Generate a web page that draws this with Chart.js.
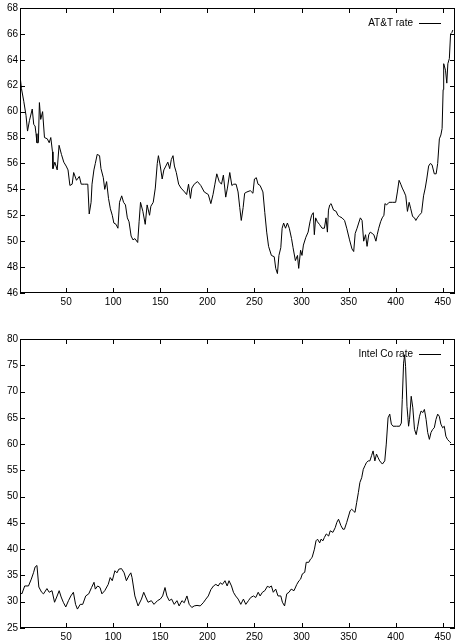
<!DOCTYPE html>
<html>
<head>
<meta charset="utf-8">
<script src="https://cdn.jsdelivr.net/npm/chart.js@4"></script>
<style>
body { margin: 0; background: #fff; }
#top { position: absolute; left: 0; top: 0; }
#bottom { position: absolute; left: 0; top: 320px; }
</style>
</head>
<body>
<canvas id="top" width="457" height="320"></canvas>
<canvas id="bottom" width="457" height="321"></canvas>
<script>
let attX = [1,2.5,5,7.4,9,11,14,15.6,17,18,19,20.5,21.6,23,25,27,30,32,33.7,35.5,36,38,40.5,42.5,45,47.5,50,52,54,56.4,58,61,64,66,69.5,73,74.5,76.5,77.5,79.5,81,83,85.5,87,89.5,91,93,95,97,99,100.7,103,105,106.7,109,111,113,115,116.8,119,121,123,126,127.5,129,131.5,134,136,138.6,140,142.5,144.7,146.8,148,150,152,153.8,155.9,158,160,161.7,163.5,165,167,169.5,172,175.8,178,180,182,183.5,186,189.5,193,196.7,201,203.7,206,208,210,212.6,215,217,219.5,221.3,223.8,226,228,230.5,232.6,234.4,236,238,239.6,242,245.6,248.4,250,252,253.8,256,259,261,263,265,268,271,272.6,274.4,276,278,279.4,281,283,285,287,289.4,291,293.5,295.7,297,299,300.5,302,304.6,307,309,310.7,312.5,313.6,315,316.8,319,321.8,324.3,326,327.5,328.6,330,331.4,334,336.8,338.6,340.4,343,345.7,348,351,353.6,355.4,357,359,360.7,362.5,364.3,366,368,369.6,371.4,373,375,376.8,379,380.4,382,384,385.7,387.5,388.6,390.4,393,396.4,400,401.8,403.6,405.4,407,409,410.7,412.5,414.3,416,418,420,421.4,423,425,427.5,429.6,431.4,433,435,436.8,438.6,441,443,444.6,446.4,448,449.3,450.4,451,452.9,454.3,455.4,457,458.3,459.6,460.7];
let attY = [62.8,61.8,60.8,59.7,58.5,59.3,60.2,59,58.9,58.3,57.6,57.6,60.7,59.4,60,58,57.9,57.6,58,56.9,55.6,56.1,55.5,57.4,56.7,56.1,55.8,55.5,54.3,54.4,55.3,54.7,55,54.4,54.4,54.4,52.1,53,54.4,55.5,56,56.7,56.6,55.6,54.9,54,54.6,53.3,52.5,52,51.4,51.3,51,53,53.5,53,52.8,51.8,51.5,50.4,50.1,50.2,49.9,51.5,53,52.3,51.3,52.8,52,52.7,53,54.1,56,56.6,55.8,54.8,55.5,55.8,56.1,55.6,56.3,56.6,55.8,55.3,54.4,54.1,53.8,53.6,54.4,53.3,54.1,54.4,54.6,54.3,53.8,53.6,52.9,53.6,54.4,55.2,54.6,54.4,55.1,53.4,54.1,55.3,54.3,54.4,54.4,53.8,52.6,51.6,52.6,53.7,53.8,53.9,53.7,54.8,54.9,54.4,54.3,53.8,52.2,50.7,49.6,48.9,48.8,47.9,47.5,48.9,49.5,51,51.4,51,51.4,51,50.2,49.5,48.5,48.9,47.9,49.3,48.9,49.7,50.3,50.7,51.5,52,52.2,50.5,51.8,51.5,51.3,51,51,51.8,50.7,52.4,52.8,52.9,52.4,52.3,52,51.9,51.8,51.6,51,50.1,49.4,49.2,50.6,51,51.4,51.8,51.6,50,50.5,49.6,50.5,50.7,50.6,50.5,50,50.5,51,51.5,51.8,52,52.9,52.8,53,53,53,53.8,54.7,54.4,54.1,53.8,53.5,52.3,53,52.5,51.9,51.8,51.6,51.8,52,52.2,53.5,54.1,54.8,55.8,56,55.9,55.2,55.2,56,57.9,58.2,58.7,61.7,63.7,63.2,62.2,63.7,64.1,66,66.1,66.3];

// Intel Co rate
let intelX = [1,3,6,10,13,15.5,17,19,21,24,26,29.6,32,35,37.7,40,42.6,44.7,47,49.6,52.5,55,57.7,60,62,65,67.6,70.8,74,77,79.6,81,83.5,86,88,91,94.7,96.8,99,101.8,104,106,108.8,111.6,114,116.5,118.7,120,123,126.4,130,132.4,134.5,137,140.5,143.3,147,150,152.5,155,157,159.5,162,164.8,167.7,170,173,175.4,178.3,180.7,183.5,186,189,192.4,195.6,198.4,201,203.7,206.5,209,211.5,213.7,216,218.7,221,223,225.6,227.7,230,232.7,235.5,238.3,240.8,243.6,246,249,251.4,254,256,258.5,261,264,265.5,268,270,272.6,275,278,279.7,282,284.3,286.7,289,292,295,297.3,299,300.9,303.4,305,307.7,309.5,311.2,313.7,315.4,317,319.3,320.7,322.8,324.2,326.3,328.8,330.5,333.3,335.8,337.5,339.3,341.8,343.9,345.6,348,351.6,353.3,355,356.8,358.6,360.4,362,363.9,365.6,367.4,369,370.9,372.6,374.4,376,377.9,379.6,381.4,383,385.9,388.4,390,391.9,393.7,395.4,397.2,400.7,404.2,406,407,408.4,409.5,410.5,412,413,413.7,414.7,416.5,418.2,420,421.8,423.5,425.3,427,428.8,430.5,432.3,434,435.8,437.5,439.3,441,442.8,444.6,446.3,448,449.9,451.6,453.3,455,457,458.8];
let intelY = [31.8,31.5,33,33,34.3,35.6,36.6,36.9,32.8,31.8,31.5,32.5,31.8,32.1,29.9,30.9,32.1,30.9,29.9,29,30.2,31.1,31.8,29.5,28.6,29.5,29.5,31.1,31.5,32.7,33.7,32.4,33,32.7,31.5,32.1,33.3,34.6,34,35.9,35.5,36.2,36.3,35.5,34,34.9,35.5,34.6,31.1,29.2,30.5,31.8,30.9,29.9,30.2,29.5,30.2,30.5,31.1,32.7,31.1,30.2,30.5,29.5,30.2,29.2,30.2,29.8,31.1,29.5,28.9,29.2,29.3,29.2,29.8,30.5,31.1,32.3,33,33.3,33,33.6,33.3,34,33,34,33,31.8,31.1,30.5,29.5,30.5,29.5,30.2,30.8,31.1,30.8,31.8,31.1,31.8,32.1,33,32.7,33,31.8,32.4,31.1,31.1,29.9,29.2,31.5,31.8,32.4,32.1,33.3,34,34.3,35.3,35.6,37.5,37.5,38.1,38.4,40,41.6,41.9,41.2,41.9,41.6,42.2,42.9,42.5,43.5,43.2,44.1,45.1,45.7,44.5,43.8,43.8,45.1,47.3,47.6,47.3,47,48.9,50.8,52.7,53.6,55.2,55.9,56.5,56.8,56.8,57.8,58.7,56.8,58.1,57.4,56.8,56.2,56.8,60,65,65.7,63.8,63.4,63.4,63.4,64,68.5,75.4,77,74.8,67.2,65,63.4,64.7,69.1,66.9,62.8,61.8,63.4,65.3,66.3,66,66.6,64.7,62.2,60.9,62.2,62.8,63.1,64.7,65.7,65.3,63.8,63.1,63.4,61.5,60.9,60.5,60.2];

let xTicks = [50,100,150,200,250,300,350,400,450];
let attTicks = [46,48,50,52,54,56,58,60,62,64,66,68];
let intelTicks = [25,30,35,40,45,50,55,60,65,70,75,80];

const FONT = { family: 'Liberation Sans, Arial, sans-serif', size: 10 };

// gnuplot style frame: inward ticks on all four sides plus the key in the corner
const framePlugin = {
    id: 'frame',
    afterDraw(chart, args, opts) {
        const ctx = chart.ctx, a = chart.chartArea;
        const xs = chart.scales.x, ys = chart.scales.y;
        ctx.save();
        ctx.strokeStyle = '#000';
        ctx.lineWidth = 1;
        ctx.strokeRect(a.left + 0.5, a.top + 0.5, a.right - a.left - 1, a.bottom - a.top - 1);
        ctx.beginPath();
        xs.ticks.forEach(t => {
            let p = Math.round(xs.getPixelForValue(t.value)) + 0.5;
            ctx.moveTo(p, a.bottom); ctx.lineTo(p, a.bottom - 5);
            ctx.moveTo(p, a.top); ctx.lineTo(p, a.top + 5);
        });
        ys.ticks.forEach(t => {
            let p = Math.round(ys.getPixelForValue(t.value)) + 0.5;
            ctx.moveTo(a.left, p); ctx.lineTo(a.left + 5, p);
            ctx.moveTo(a.right, p); ctx.lineTo(a.right - 5, p);
        });
        ctx.stroke();
        // key
        ctx.font = '10px ' + FONT.family;
        ctx.fillStyle = '#000';
        ctx.textAlign = 'right';
        ctx.textBaseline = 'middle';
        let ky = a.top + 15;
        ctx.fillText(opts.label, a.right - 42, ky);
        ctx.beginPath();
        ctx.moveTo(a.right - 36, ky + 0.5); ctx.lineTo(a.right - 14, ky + 0.5);
        ctx.stroke();
        ctx.restore();
    }
};

function makeChart(id, xs, ys, label, yTicks, pad, xHeight) {
    return new Chart(document.getElementById(id), {
        type: 'line',
        data: {
            datasets: [{
                data: xs.map((x, i) => ({ x: x, y: ys[i] })),
                borderColor: '#000',
                borderWidth: 1,
                pointRadius: 0,
                tension: 0
            }]
        },
        options: {
            responsive: false,
            animation: false,
            layout: { padding: pad },
            plugins: { legend: { display: false }, tooltip: { enabled: false }, frame: { label: label } },
            scales: {
                x: {
                    type: 'linear', min: 1, max: 463,
                    afterBuildTicks: s => { s.ticks = xTicks.map(v => ({ value: v })); },
                    afterFit: s => { s.height = xHeight; },
                    grid: { display: false, drawTicks: false }, border: { display: false },
                    ticks: { color: '#000', font: FONT, maxRotation: 0, padding: 3 }
                },
                y: {
                    min: yTicks[0], max: yTicks[yTicks.length - 1],
                    afterBuildTicks: s => { s.ticks = yTicks.map(v => ({ value: v })); },
                    afterFit: s => { s.width = 20; },
                    grid: { display: false, drawTicks: false }, border: { display: false },
                    ticks: { color: '#000', font: FONT, padding: 2 }
                }
            }
        },
        plugins: [framePlugin]
    });
}

makeChart('top', attX, attY, 'AT&T rate', attTicks, { top: 3, right: 2, left: 0, bottom: 0 }, 27);
makeChart('bottom', intelX, intelY, 'Intel Co rate', intelTicks, { top: 19, right: 2, left: 0, bottom: 0 }, 13);
</script>
</body>
</html>
